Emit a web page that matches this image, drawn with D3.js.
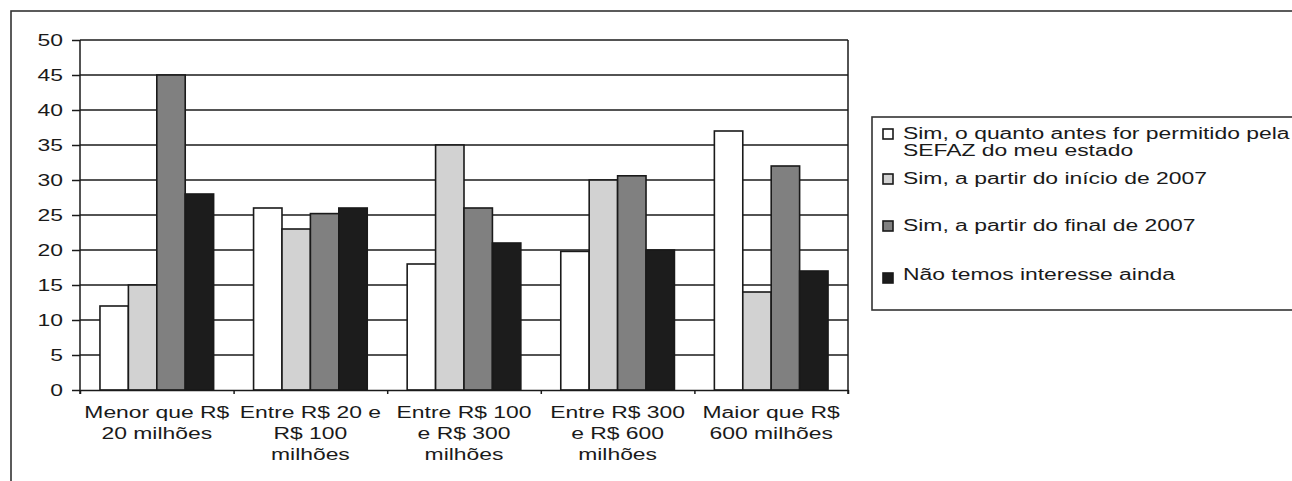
<!DOCTYPE html>
<html>
<head>
<meta charset="utf-8">
<script src="https://cdn.jsdelivr.net/npm/d3@7/dist/d3.min.js"></script>
<style>
  html, body { margin: 0; padding: 0; background: #fff; }
  svg { display: block; }
  text { font-family: "Liberation Sans", Arial, sans-serif; fill: #1a1a1a; }
</style>
</head>
<body>
<svg id="chart" width="1292" height="481"></svg>
<script>
// ---- data ----
const categories = [
  ["Menor que R$", "20 milhões"],
  ["Entre R$ 20 e", "R$ 100", "milhões"],
  ["Entre R$ 100", "e R$ 300", "milhões"],
  ["Entre R$ 300", "e R$ 600", "milhões"],
  ["Maior que R$", "600 milhões"]
];
const seriesNames = [
  ["Sim, o quanto antes for permitido pela", "SEFAZ do meu estado"],
  ["Sim, a partir do início de 2007"],
  ["Sim, a partir do final de 2007"],
  ["Não temos interesse ainda"]
];
const simQuantoAntes = [12, 26, 18, 19.8, 37];
const simInicio2007  = [15, 23, 35, 30, 14];
const simFinal2007   = [45, 25.2, 26, 30.6, 32];
const naoInteresse   = [28, 26, 21, 20, 17];
const yTicks = [0, 5, 10, 15, 20, 25, 30, 35, 40, 45, 50];

const seriesValues = [simQuantoAntes, simInicio2007, simFinal2007, naoInteresse];
const seriesColors = ["#ffffff", "#d2d2d2", "#808080", "#1c1c1c"];

// ---- layout ----
const svg = d3.select("#chart");
const plot = { left: 80, right: 848, top: 40, bottom: 390 };
const SX = 1.43;       // horizontal text stretch seen in the reference
const FS = 16;
const ink = "#1a1a1a";

const catIdx = d3.range(categories.length);
const x0 = d3.scaleBand().domain(catIdx).range([plot.left, plot.right])
  .paddingInner(0.26).paddingOuter(0.13);
const x1 = d3.scaleBand().domain(d3.range(seriesValues.length)).range([0, x0.bandwidth()]);
const y = d3.scaleLinear().domain([0, 50]).range([plot.bottom, plot.top]);
const xEdge = d3.scaleLinear().domain([0, categories.length]).range([plot.left, plot.right]);

// outer frame
svg.append("rect").attr("x", 11).attr("y", 11).attr("width", 1400).attr("height", 600)
  .attr("fill", "none").attr("stroke", "#333").attr("stroke-width", 1.6);

// gridlines
svg.append("g").selectAll("line").data(yTicks.filter(d => d > 0)).join("line")
  .attr("x1", plot.left).attr("x2", plot.right)
  .attr("y1", d => y(d)).attr("y2", d => y(d))
  .attr("stroke", ink).attr("stroke-width", 1.5);

// right border
svg.append("line").attr("x1", plot.right).attr("x2", plot.right)
  .attr("y1", y(50)).attr("y2", y(0) + 4)
  .attr("stroke", ink).attr("stroke-width", 1.5);

// bars
const groups = svg.append("g").selectAll("g").data(catIdx).join("g")
  .attr("transform", i => `translate(${x0(i)},0)`);
groups.selectAll("rect").data(i => seriesValues.map((s, k) => ({ k, v: s[i] }))).join("rect")
  .attr("x", d => x1(d.k))
  .attr("width", x1.bandwidth())
  .attr("y", d => y(d.v))
  .attr("height", d => y(0) - y(d.v))
  .attr("fill", d => seriesColors[d.k])
  .attr("stroke", ink).attr("stroke-width", 1.6);

// y axis
const yAxis = svg.append("g").attr("transform", `translate(${plot.left},0)`)
  .call(d3.axisLeft(y).tickValues(yTicks).tickSize(8).tickSizeOuter(0));
yAxis.select(".domain").attr("stroke", ink).attr("stroke-width", 1.5)
  .attr("d", `M0,${y(50)}V${y(0) + 4}`);
yAxis.selectAll(".tick line").attr("stroke", ink).attr("stroke-width", 1.5);
yAxis.selectAll(".tick text")
  .attr("x", 0).attr("dy", "0.36em")
  .attr("transform", "translate(-17,0) scale(" + SX + ",1)")
  .style("font-size", FS + "px").style("font-family", '"Liberation Sans", Arial, sans-serif')
  .attr("fill", ink);

// x axis (ticks at category boundaries)
const xAxis = svg.append("g").attr("transform", `translate(0,${plot.bottom})`)
  .call(d3.axisBottom(xEdge).tickValues(d3.range(categories.length + 1)).tickSize(4).tickSizeOuter(0).tickFormat(""));
xAxis.select(".domain").attr("stroke", ink).attr("stroke-width", 1.5);
xAxis.selectAll(".tick line").attr("stroke", ink).attr("stroke-width", 1.5);

// x labels
const xl = svg.append("g").selectAll("g").data(catIdx).join("g");
xl.each(function(i) {
  const cx = x0(i) + x0.bandwidth() / 2;
  d3.select(this).selectAll("text").data(categories[i]).join("text")
    .attr("text-anchor", "middle")
    .attr("transform", (d, j) => `translate(${cx},${418 + j * 21}) scale(${SX},1)`)
    .style("font-size", FS + "px")
    .text(d => d);
});

// legend
svg.append("rect").attr("x", 872).attr("y", 117).attr("width", 600).attr("height", 193)
  .attr("fill", "#fff").attr("stroke", "#333").attr("stroke-width", 1.6);
const legendBase = [139, 184, 231, 280];
const lg = svg.append("g").selectAll("g").data(seriesNames).join("g");
lg.append("rect")
  .attr("x", 883).attr("width", 10).attr("height", 10)
  .attr("y", (d, k) => legendBase[k] - 10 + (k === 3 ? 3 : 0))
  .attr("fill", (d, k) => seriesColors[k])
  .attr("stroke", ink).attr("stroke-width", 1.6);
lg.each(function(d, k) {
  d3.select(this).selectAll("text").data(d).join("text")
    .attr("transform", (t, j) => `translate(903,${legendBase[k] + j * 17}) scale(${SX},1)`)
    .style("font-size", FS + "px")
    .text(t => t);
});
</script>
</body>
</html>
